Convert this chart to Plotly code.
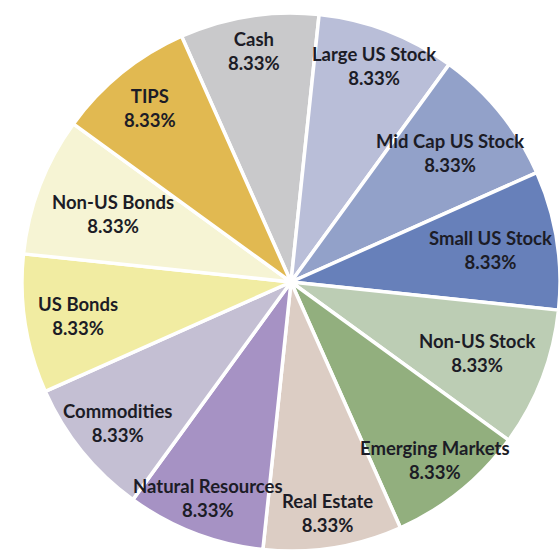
import math
import plotly.graph_objects as go

# Asset allocation: twelve equal sleeves, listed clockwise starting from "Cash"
categories = [
    "Cash", "Large US Stock", "Mid Cap US Stock", "Small US Stock",
    "Non-US Stock", "Emerging Markets", "Real Estate", "Natural Resources",
    "Commodities", "US Bonds", "Non-US Bonds", "TIPS",
]
weights = [8.33, 8.33, 8.33, 8.33, 8.33, 8.33, 8.33, 8.33, 8.33, 8.33, 8.33, 8.33]

colors = [
    "#c9c9cb", "#b9bed8", "#92a1c9", "#6780ba",
    "#bccdb4", "#92af7e", "#dccdc4", "#a692c4",
    "#c4bfd3", "#f1eca2", "#f6f4d4", "#e1b951",
]

# how far out (fraction of radius) each label sits along its slice's bisector
label_radius = [0.87, 0.86, 0.76, 0.75, 0.74, 0.85, 0.87, 0.86, 0.83, 0.80, 0.71, 0.83]

START_ANGLE = -24  # degrees clockwise from 12 o'clock where the first slice begins

fig = go.Figure(
    go.Pie(
        labels=categories,
        values=weights,
        sort=False,
        direction="clockwise",
        rotation=START_ANGLE,
        marker=dict(colors=colors, line=dict(color="white", width=3.5)),
        textinfo="none",
        hoverinfo="label+percent",
        showlegend=False,
        domain=dict(x=[0, 1], y=[0, 1]),
    )
)

# place two-line labels at each slice's mid-angle
total = sum(weights)
acc = 0.0
annotations = []
for name, w, rf in zip(categories, weights, label_radius):
    mid = START_ANGLE + 360.0 * (acc + w / 2) / total
    acc += w
    th = math.radians(mid)
    x = 0.5 + 0.5 * rf * math.sin(th)
    y = 0.5 + 0.5 * rf * math.cos(th)
    pct = 100.0 * w / total
    annotations.append(dict(
        x=x, y=y, xref="paper", yref="paper",
        text=f"{name}<br>{pct:.2f}%",
        showarrow=False,
        xanchor="center", yanchor="middle",
        font=dict(family="Lato", size=18.5, color="#1c1c26", weight=700),
    ))

fig.update_layout(
    width=560,
    height=555,
    margin=dict(l=22, r=0, t=13, b=4),
    paper_bgcolor="white",
    plot_bgcolor="white",
    annotations=annotations,
)

fig.write_html("out.html")
